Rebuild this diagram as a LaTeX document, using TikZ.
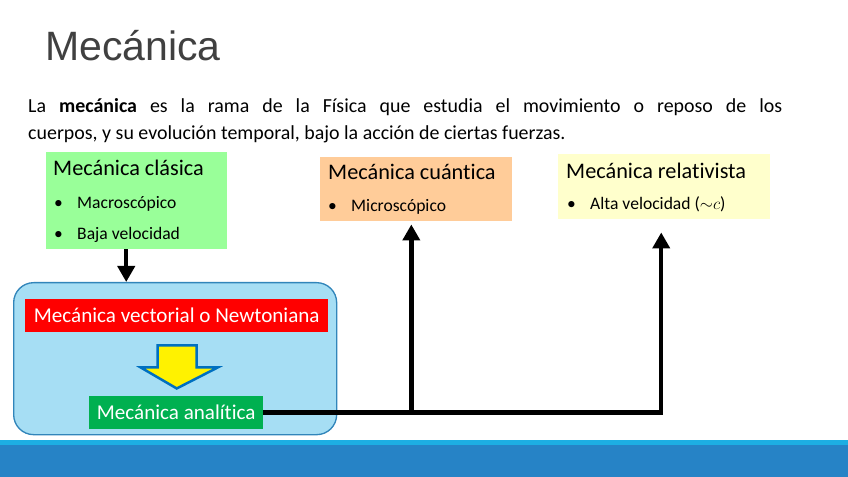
\documentclass[tikz,border=0pt]{standalone}
\usepackage{fontspec}
\setmainfont[Ligatures=NoCommon]{Carlito}
\newfontfamily\titlefont{Liberation Sans}
\usetikzlibrary{positioning,calc,arrows.meta}

\definecolor{clasgreen}{RGB}{153,255,153}
\definecolor{cuanorange}{RGB}{255,204,153}
\definecolor{relyellow}{RGB}{255,255,204}
\definecolor{grpblue}{RGB}{166,222,244}
\definecolor{grpedge}{RGB}{49,133,186}
\definecolor{anagreen}{RGB}{0,176,80}
\definecolor{arrowedge}{RGB}{0,112,192}
\definecolor{bandlight}{RGB}{29,174,227}
\definecolor{banddark}{RGB}{38,131,198}
\definecolor{titlegray}{RGB}{64,64,64}

\begin{document}
\begin{tikzpicture}[
    x=0.3mm, y=-0.3mm,
    >={Triangle[length=4.8mm,width=5.1mm]},
    box/.style={anchor=north west, inner sep=0pt},
    head/.style={anchor=base west, inner sep=0pt,
                 font=\fontsize{19}{22}\selectfont},
    item/.style={anchor=base west, inner sep=0pt,
                 font=\fontsize{15}{18}\selectfont},
    strip/.style={anchor=north west, inner sep=0pt, text=white,
                  minimum height=9.9mm, font=\fontsize{18}{22}\selectfont},
    conn/.style={->, line width=1.35mm}
]
\useasboundingbox (0,0) rectangle (848,477);

% title and definition
\node[anchor=base west, inner sep=0pt, text=titlegray,
      font=\titlefont\fontsize{35}{40}\selectfont] (title) at (45,61) {Mecánica};
\node[anchor=base west, inner sep=0pt, text width=226.2mm, align=justify,
      font=\fontsize{17}{22.2}\selectfont] (intro) at (28,113)
    {La \textbf{mecánica} es la rama de la Física que estudia el movimiento o reposo de los\linebreak
     cuerpos, y su evolución temporal, bajo la acción de ciertas fuerzas.};

% the three branches
\node[box, fill=clasgreen, minimum width=54.3mm, minimum height=29.1mm] (cla) at (46,152) {};
\node[head] (claT) at ($(cla.north west)+(7,24)$) {Mecánica clásica};
\node[item] (claA) at ($(cla.north west)+(8,57)$) {\makebox[6.9mm][l]{•}Macroscópico};
\node[item] (claB) at ($(cla.north west)+(8,88)$) {\makebox[6.9mm][l]{•}Baja velocidad};

\node[box, fill=cuanorange, minimum width=57.45mm, minimum height=19.35mm] (cua) at (320,156.5) {};
\node[head] (cuaT) at ($(cua.north west)+(8,23.5)$) {Mecánica cuántica};
\node[item] (cuaA) at ($(cua.north west)+(8,55)$) {\makebox[6.9mm][l]{•}Microscópico};

\node[box, fill=relyellow, minimum width=63.6mm, minimum height=19.5mm] (rel) at (558,154) {};
\node[head] (relT) at ($(rel.north west)+(8,24.3)$) {Mecánica relativista};
\node[item] (relA) at ($(rel.north west)+(9,56)$) {\makebox[6.9mm][l]{•}Alta velocidad (${\sim}c$)};

% classical mechanics group
\node[box, fill=grpblue, draw=grpedge, line width=0.4mm, rounded corners=6mm,
      minimum width=96.9mm, minimum height=45.6mm] (grp) at (13,282) {};
\node[strip, fill=red, minimum width=90.9mm] (vec) at (25,299) {Mecánica vectorial o Newtoniana};
\node[strip, fill=anagreen, minimum width=52.2mm] (ana) at (89,396) {Mecánica analítica};

\draw[fill=yellow, draw=arrowedge, line width=0.75mm]
    ($(vec.south)+(-19,13)$) -- ++(39,0) -- ++(0,22) -- ++(21,0)
    -- ++(-41,21) -- ++(-36,-21) -- ++(17,0) -- cycle;

% connectors
\draw[conn] ([xshift=-3.15mm]cla.south) -- ([xshift=-3.15mm]cla.south |- grp.north);
\coordinate (cuaFoot) at ([xshift=-1.4mm]cua.south |- ana.east);
\draw[conn, shorten >=3.9mm] (ana.east) -| ([xshift=-0.9mm]rel.south);
\draw[conn, shorten >=0.9mm] (cuaFoot) -- ([xshift=-1.4mm]cua.south);

% footer band
\fill[bandlight] (0,440) rectangle (848,446);
\fill[banddark] (0,445) rectangle (848,477);
\end{tikzpicture}
\end{document}
